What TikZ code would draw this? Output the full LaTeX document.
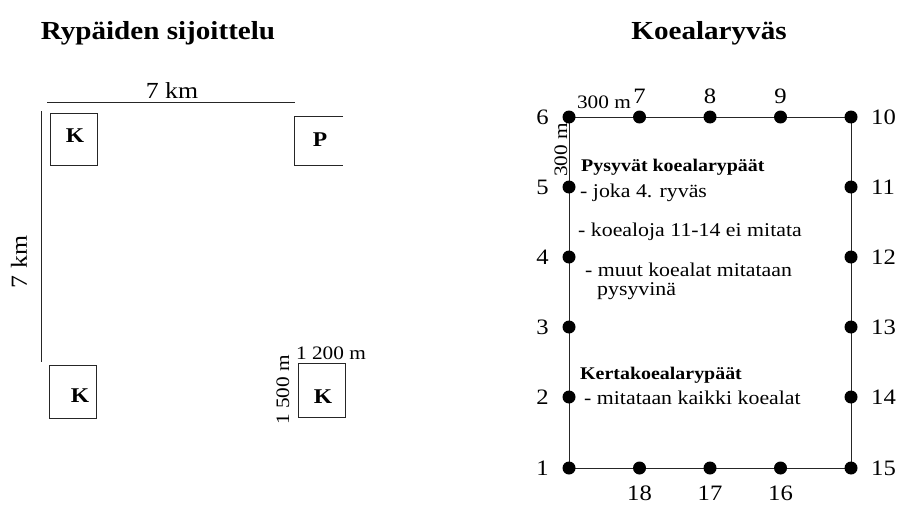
\documentclass[tikz,border=0pt]{standalone}
\usepackage{fontspec}
\setmainfont[FakeStretch=1.12]{Liberation Serif}
\begin{document}
\begin{tikzpicture}[x=1pt,y=-1pt,
  ln/.style={draw=black!85,line width=0.8pt},
  box/.style={ln},
  plot/.style={circle,fill=black,inner sep=0pt,minimum size=13pt},
  num/.style={font=\fontsize{22}{22}\selectfont,inner sep=0pt},
  lbl/.style={font=\fontsize{23}{23}\selectfont,inner sep=0pt},
  letter/.style={font=\fontsize{21}{21}\selectfont\bfseries,inner sep=0pt},
  ttl/.style={font=\fontsize{26}{26}\selectfont\bfseries,inner sep=0pt},
  small/.style={font=\fontsize{19}{19}\selectfont,inner sep=0pt},
  txt/.style={font=\fontsize{19.5}{19.5}\selectfont,inner sep=0pt,anchor=west},
  btxt/.style={font=\fontsize{17.8}{17.8}\selectfont\bfseries,inner sep=0pt,anchor=west}]
\useasboundingbox (0,0) rectangle (898,506);
% ---------- left panel ----------
\node[ttl] (t1) at (158,33) {Rypäiden sijoittelu};
\coordinate (h1) at (47,102); \coordinate (h2) at (295,102);
\draw[ln] (h1) -- (h2);
\node[lbl] (km1) at (172,91) {7 km};
\coordinate (v1) at (41,111); \coordinate (v2) at (41,362);
\draw[ln] (v1) -- (v2);
\node[lbl,rotate=90] (km2) at (19,262) {7 km};
\draw[box] (50,113) rectangle (97,165);
\node[letter] (k1) at (75,136) {K};
\coordinate (p1) at (343,116); \coordinate (p2) at (294,116);
\coordinate (p3) at (294,165); \coordinate (p4) at (343,165);
\draw[box] (p1) -- (p2) -- (p3) -- (p4);
\node[letter] (p) at (320,140) {P};
\draw[box] (49,365) rectangle (96,418);
\node[letter] (k2) at (80,396) {K};
\draw[box] (298,363) rectangle (345,417);
\node[letter] (k3) at (323,397) {K};
\node[small] (w) at (331,353) {1 200 m};
\node[small,rotate=90] (hh) at (283,390) {1 500 m};
% ---------- right panel ----------
\node[ttl] (t2) at (709,33) {Koealaryväs};
\draw[ln] (569,117) rectangle (851,468);
\foreach \n/\x/\y in {6/569/117,7/639.5/117,8/710/117,9/780.5/117,10/851/117,
  5/569/187,4/569/257,3/569/327,2/569/397,1/569/468,
  11/851/187,12/851/257,13/851/327,14/851/397,15/851/468,
  18/639.5/468,17/710/468,16/780.5/468}
  \node[plot] (d\n) at (\x,\y) {};
\foreach \n in {5,4,3,2,1,6} \node[num,anchor=east] (l\n) at ([xshift=-20pt]d\n) {\n};
\foreach \n in {10,11,12,13,14,15} \node[num,anchor=west] (l\n) at ([xshift=20pt]d\n) {\n};
\foreach \n in {7,8,9} \node[num] (l\n) at ([yshift=21pt]d\n) {\n};
\foreach \n in {18,17,16} \node[num] (l\n) at ([yshift=-25pt]d\n) {\n};
\node[small] (s1) at (604,102) {300 m};
\node[small,rotate=90] (s2) at (561,150) {300 m};
\node[btxt] (a1) at (581,167) {Pysyvät koealarypäät};
\node[txt] (a2) at (580,193) {- joka 4. ryväs};
\node[txt] (a3) at (578,232) {- koealoja 11-14 ei mitata};
\node[txt] (a4) at (585,270) {- muut koealat mitataan};
\node[txt] (a5) at (597,291) {pysyvinä};
\node[btxt] (b1) at (580,375) {Kertakoealarypäät};
\node[txt] (b2) at (584,398) {- mitataan kaikki koealat};
\end{tikzpicture}
\end{document}
